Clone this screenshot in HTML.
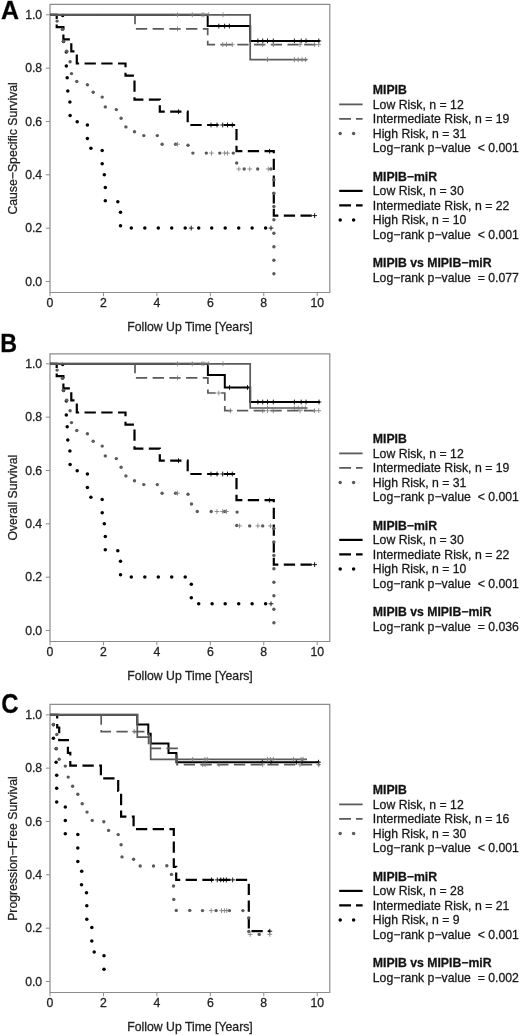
<!DOCTYPE html>
<html><head><meta charset="utf-8"><style>
html,body{margin:0;padding:0;background:#fff;}
body{width:520px;height:1035px;overflow:hidden;}
svg{display:block;font-family:"Liberation Sans", sans-serif;will-change:transform;} text{stroke:#222;stroke-width:0.28px;}
</style></head><body>
<svg width="520" height="1035" viewBox="0 0 520 1035">
<path d="M50,4.4 V292.5 H329.8 V4.4 Z" fill="none" stroke="#8c8c8c" stroke-width="1.2"/>
<line x1="45.8" y1="281.50" x2="50" y2="281.50" stroke="#8c8c8c" stroke-width="1"/>
<text x="42.2" y="285.60" text-anchor="end" font-size="12.25" fill="#222">0.0</text>
<line x1="45.8" y1="228.16" x2="50" y2="228.16" stroke="#8c8c8c" stroke-width="1"/>
<text x="42.2" y="232.26" text-anchor="end" font-size="12.25" fill="#222">0.2</text>
<line x1="45.8" y1="174.82" x2="50" y2="174.82" stroke="#8c8c8c" stroke-width="1"/>
<text x="42.2" y="178.92" text-anchor="end" font-size="12.25" fill="#222">0.4</text>
<line x1="45.8" y1="121.48" x2="50" y2="121.48" stroke="#8c8c8c" stroke-width="1"/>
<text x="42.2" y="125.58" text-anchor="end" font-size="12.25" fill="#222">0.6</text>
<line x1="45.8" y1="68.14" x2="50" y2="68.14" stroke="#8c8c8c" stroke-width="1"/>
<text x="42.2" y="72.24" text-anchor="end" font-size="12.25" fill="#222">0.8</text>
<line x1="45.8" y1="14.80" x2="50" y2="14.80" stroke="#8c8c8c" stroke-width="1"/>
<text x="42.2" y="18.90" text-anchor="end" font-size="12.25" fill="#222">1.0</text>
<line x1="50.00" y1="292.5" x2="50.00" y2="296.2" stroke="#8c8c8c" stroke-width="1"/>
<text x="50.00" y="306.8" text-anchor="middle" font-size="12.25" fill="#222">0</text>
<line x1="103.44" y1="292.5" x2="103.44" y2="296.2" stroke="#8c8c8c" stroke-width="1"/>
<text x="103.44" y="306.8" text-anchor="middle" font-size="12.25" fill="#222">2</text>
<line x1="156.88" y1="292.5" x2="156.88" y2="296.2" stroke="#8c8c8c" stroke-width="1"/>
<text x="156.88" y="306.8" text-anchor="middle" font-size="12.25" fill="#222">4</text>
<line x1="210.32" y1="292.5" x2="210.32" y2="296.2" stroke="#8c8c8c" stroke-width="1"/>
<text x="210.32" y="306.8" text-anchor="middle" font-size="12.25" fill="#222">6</text>
<line x1="263.76" y1="292.5" x2="263.76" y2="296.2" stroke="#8c8c8c" stroke-width="1"/>
<text x="263.76" y="306.8" text-anchor="middle" font-size="12.25" fill="#222">8</text>
<line x1="317.20" y1="292.5" x2="317.20" y2="296.2" stroke="#8c8c8c" stroke-width="1"/>
<text x="317.20" y="306.8" text-anchor="middle" font-size="12.25" fill="#222">10</text>
<text x="190" y="331.3" text-anchor="middle" font-size="12.25" fill="#222">Follow Up Time [Years]</text>
<text transform="translate(17.4,148.4) rotate(-90)" text-anchor="middle" font-size="12.25" fill="#222">Cause−Specific Survival</text>
<text transform="translate(1.0,19.4) scale(1.04,1.06)" font-size="24" font-weight="bold" fill="#000">A</text>
<text x="372.8" y="94.00" font-size="12.25" font-weight="bold" fill="#111" xml:space="preserve">MIPIB</text>
<text x="372.8" y="108.60" font-size="12.25" fill="#111" xml:space="preserve">Low Risk, n = 12</text>
<text x="372.8" y="123.10" font-size="12.25" fill="#111" xml:space="preserve">Intermediate Risk, n = 19</text>
<text x="372.8" y="137.60" font-size="12.25" fill="#111" xml:space="preserve">High Risk, n = 31</text>
<text x="372.8" y="152.20" font-size="12.25" fill="#111" xml:space="preserve">Log−rank p−value  &lt; 0.001</text>
<text x="372.8" y="180.50" font-size="12.25" font-weight="bold" fill="#111" xml:space="preserve">MIPIB−miR</text>
<text x="372.8" y="195.10" font-size="12.25" fill="#111" xml:space="preserve">Low Risk, n = 30</text>
<text x="372.8" y="209.60" font-size="12.25" fill="#111" xml:space="preserve">Intermediate Risk, n = 22</text>
<text x="372.8" y="224.10" font-size="12.25" fill="#111" xml:space="preserve">High Risk, n = 10</text>
<text x="372.8" y="238.70" font-size="12.25" fill="#111" xml:space="preserve">Log−rank p−value  &lt; 0.001</text>
<text x="372.8" y="267.00" font-size="12.25" font-weight="bold" fill="#111" xml:space="preserve">MIPIB vs MIPIB−miR</text>
<text x="372.8" y="281.60" font-size="12.25" fill="#111" xml:space="preserve">Log−rank p−value  = 0.077</text>
<line x1="339.2" y1="104.40" x2="362.6" y2="104.40" stroke="#5a5a5a" stroke-width="1.8"/>
<path d="M339.2,118.90 H351 M356,118.90 H362.6" stroke="#5a5a5a" stroke-width="1.8" fill="none"/>
<circle cx="340.2" cy="133.40" r="1.75" fill="#5a5a5a"/><circle cx="353.6" cy="133.40" r="1.75" fill="#5a5a5a"/>
<line x1="339.2" y1="190.90" x2="362.6" y2="190.90" stroke="#000" stroke-width="2.2"/>
<path d="M339.2,205.40 H351 M356,205.40 H362.6" stroke="#000" stroke-width="2.2" fill="none"/>
<circle cx="340.2" cy="219.90" r="1.75" fill="#000"/><circle cx="353.6" cy="219.90" r="1.75" fill="#000"/>
<path d="M50,353.9 V641.5 H329.8 V353.9 Z" fill="none" stroke="#8c8c8c" stroke-width="1.2"/>
<line x1="45.8" y1="630.50" x2="50" y2="630.50" stroke="#8c8c8c" stroke-width="1"/>
<text x="42.2" y="634.60" text-anchor="end" font-size="12.25" fill="#222">0.0</text>
<line x1="45.8" y1="577.16" x2="50" y2="577.16" stroke="#8c8c8c" stroke-width="1"/>
<text x="42.2" y="581.26" text-anchor="end" font-size="12.25" fill="#222">0.2</text>
<line x1="45.8" y1="523.82" x2="50" y2="523.82" stroke="#8c8c8c" stroke-width="1"/>
<text x="42.2" y="527.92" text-anchor="end" font-size="12.25" fill="#222">0.4</text>
<line x1="45.8" y1="470.48" x2="50" y2="470.48" stroke="#8c8c8c" stroke-width="1"/>
<text x="42.2" y="474.58" text-anchor="end" font-size="12.25" fill="#222">0.6</text>
<line x1="45.8" y1="417.14" x2="50" y2="417.14" stroke="#8c8c8c" stroke-width="1"/>
<text x="42.2" y="421.24" text-anchor="end" font-size="12.25" fill="#222">0.8</text>
<line x1="45.8" y1="363.80" x2="50" y2="363.80" stroke="#8c8c8c" stroke-width="1"/>
<text x="42.2" y="367.90" text-anchor="end" font-size="12.25" fill="#222">1.0</text>
<line x1="50.00" y1="641.5" x2="50.00" y2="645.2" stroke="#8c8c8c" stroke-width="1"/>
<text x="50.00" y="655.8" text-anchor="middle" font-size="12.25" fill="#222">0</text>
<line x1="103.44" y1="641.5" x2="103.44" y2="645.2" stroke="#8c8c8c" stroke-width="1"/>
<text x="103.44" y="655.8" text-anchor="middle" font-size="12.25" fill="#222">2</text>
<line x1="156.88" y1="641.5" x2="156.88" y2="645.2" stroke="#8c8c8c" stroke-width="1"/>
<text x="156.88" y="655.8" text-anchor="middle" font-size="12.25" fill="#222">4</text>
<line x1="210.32" y1="641.5" x2="210.32" y2="645.2" stroke="#8c8c8c" stroke-width="1"/>
<text x="210.32" y="655.8" text-anchor="middle" font-size="12.25" fill="#222">6</text>
<line x1="263.76" y1="641.5" x2="263.76" y2="645.2" stroke="#8c8c8c" stroke-width="1"/>
<text x="263.76" y="655.8" text-anchor="middle" font-size="12.25" fill="#222">8</text>
<line x1="317.20" y1="641.5" x2="317.20" y2="645.2" stroke="#8c8c8c" stroke-width="1"/>
<text x="317.20" y="655.8" text-anchor="middle" font-size="12.25" fill="#222">10</text>
<text x="190" y="680.3" text-anchor="middle" font-size="12.25" fill="#222">Follow Up Time [Years]</text>
<text transform="translate(17.4,497.7) rotate(-90)" text-anchor="middle" font-size="12.25" fill="#222">Overall Survival</text>
<text transform="translate(0.2,351.5) scale(0.97,1.04)" font-size="24" font-weight="bold" fill="#000">B</text>
<text x="372.8" y="443.00" font-size="12.25" font-weight="bold" fill="#111" xml:space="preserve">MIPIB</text>
<text x="372.8" y="457.60" font-size="12.25" fill="#111" xml:space="preserve">Low Risk, n = 12</text>
<text x="372.8" y="472.10" font-size="12.25" fill="#111" xml:space="preserve">Intermediate Risk, n = 19</text>
<text x="372.8" y="486.60" font-size="12.25" fill="#111" xml:space="preserve">High Risk, n = 31</text>
<text x="372.8" y="501.20" font-size="12.25" fill="#111" xml:space="preserve">Log−rank p−value  &lt; 0.001</text>
<text x="372.8" y="529.50" font-size="12.25" font-weight="bold" fill="#111" xml:space="preserve">MIPIB−miR</text>
<text x="372.8" y="544.10" font-size="12.25" fill="#111" xml:space="preserve">Low Risk, n = 30</text>
<text x="372.8" y="558.60" font-size="12.25" fill="#111" xml:space="preserve">Intermediate Risk, n = 22</text>
<text x="372.8" y="573.10" font-size="12.25" fill="#111" xml:space="preserve">High Risk, n = 10</text>
<text x="372.8" y="587.70" font-size="12.25" fill="#111" xml:space="preserve">Log−rank p−value  &lt; 0.001</text>
<text x="372.8" y="616.00" font-size="12.25" font-weight="bold" fill="#111" xml:space="preserve">MIPIB vs MIPIB−miR</text>
<text x="372.8" y="630.60" font-size="12.25" fill="#111" xml:space="preserve">Log−rank p−value  = 0.036</text>
<line x1="339.2" y1="453.40" x2="362.6" y2="453.40" stroke="#5a5a5a" stroke-width="1.8"/>
<path d="M339.2,467.90 H351 M356,467.90 H362.6" stroke="#5a5a5a" stroke-width="1.8" fill="none"/>
<circle cx="340.2" cy="482.40" r="1.75" fill="#5a5a5a"/><circle cx="353.6" cy="482.40" r="1.75" fill="#5a5a5a"/>
<line x1="339.2" y1="539.90" x2="362.6" y2="539.90" stroke="#000" stroke-width="2.2"/>
<path d="M339.2,554.40 H351 M356,554.40 H362.6" stroke="#000" stroke-width="2.2" fill="none"/>
<circle cx="340.2" cy="568.90" r="1.75" fill="#000"/><circle cx="353.6" cy="568.90" r="1.75" fill="#000"/>
<path d="M50,704.4 V992.5 H329.8 V704.4 Z" fill="none" stroke="#8c8c8c" stroke-width="1.2"/>
<line x1="45.8" y1="981.50" x2="50" y2="981.50" stroke="#8c8c8c" stroke-width="1"/>
<text x="42.2" y="985.60" text-anchor="end" font-size="12.25" fill="#222">0.0</text>
<line x1="45.8" y1="928.16" x2="50" y2="928.16" stroke="#8c8c8c" stroke-width="1"/>
<text x="42.2" y="932.26" text-anchor="end" font-size="12.25" fill="#222">0.2</text>
<line x1="45.8" y1="874.82" x2="50" y2="874.82" stroke="#8c8c8c" stroke-width="1"/>
<text x="42.2" y="878.92" text-anchor="end" font-size="12.25" fill="#222">0.4</text>
<line x1="45.8" y1="821.48" x2="50" y2="821.48" stroke="#8c8c8c" stroke-width="1"/>
<text x="42.2" y="825.58" text-anchor="end" font-size="12.25" fill="#222">0.6</text>
<line x1="45.8" y1="768.14" x2="50" y2="768.14" stroke="#8c8c8c" stroke-width="1"/>
<text x="42.2" y="772.24" text-anchor="end" font-size="12.25" fill="#222">0.8</text>
<line x1="45.8" y1="714.80" x2="50" y2="714.80" stroke="#8c8c8c" stroke-width="1"/>
<text x="42.2" y="718.90" text-anchor="end" font-size="12.25" fill="#222">1.0</text>
<line x1="50.00" y1="992.5" x2="50.00" y2="996.2" stroke="#8c8c8c" stroke-width="1"/>
<text x="50.00" y="1006.8" text-anchor="middle" font-size="12.25" fill="#222">0</text>
<line x1="103.44" y1="992.5" x2="103.44" y2="996.2" stroke="#8c8c8c" stroke-width="1"/>
<text x="103.44" y="1006.8" text-anchor="middle" font-size="12.25" fill="#222">2</text>
<line x1="156.88" y1="992.5" x2="156.88" y2="996.2" stroke="#8c8c8c" stroke-width="1"/>
<text x="156.88" y="1006.8" text-anchor="middle" font-size="12.25" fill="#222">4</text>
<line x1="210.32" y1="992.5" x2="210.32" y2="996.2" stroke="#8c8c8c" stroke-width="1"/>
<text x="210.32" y="1006.8" text-anchor="middle" font-size="12.25" fill="#222">6</text>
<line x1="263.76" y1="992.5" x2="263.76" y2="996.2" stroke="#8c8c8c" stroke-width="1"/>
<text x="263.76" y="1006.8" text-anchor="middle" font-size="12.25" fill="#222">8</text>
<line x1="317.20" y1="992.5" x2="317.20" y2="996.2" stroke="#8c8c8c" stroke-width="1"/>
<text x="317.20" y="1006.8" text-anchor="middle" font-size="12.25" fill="#222">10</text>
<text x="190" y="1031.3" text-anchor="middle" font-size="12.25" fill="#222">Follow Up Time [Years]</text>
<text transform="translate(17.4,848.5) rotate(-90)" text-anchor="middle" font-size="12.25" fill="#222">Progression−Free Survival</text>
<text transform="translate(1.2,712.9) scale(1.0,1.12)" font-size="24" font-weight="bold" fill="#000">C</text>
<text x="372.8" y="794.00" font-size="12.25" font-weight="bold" fill="#111" xml:space="preserve">MIPIB</text>
<text x="372.8" y="808.60" font-size="12.25" fill="#111" xml:space="preserve">Low Risk, n = 12</text>
<text x="372.8" y="823.10" font-size="12.25" fill="#111" xml:space="preserve">Intermediate Risk, n = 16</text>
<text x="372.8" y="837.60" font-size="12.25" fill="#111" xml:space="preserve">High Risk, n = 30</text>
<text x="372.8" y="852.20" font-size="12.25" fill="#111" xml:space="preserve">Log−rank p−value  &lt; 0.001</text>
<text x="372.8" y="880.50" font-size="12.25" font-weight="bold" fill="#111" xml:space="preserve">MIPIB−miR</text>
<text x="372.8" y="895.10" font-size="12.25" fill="#111" xml:space="preserve">Low Risk, n = 28</text>
<text x="372.8" y="909.60" font-size="12.25" fill="#111" xml:space="preserve">Intermediate Risk, n = 21</text>
<text x="372.8" y="924.10" font-size="12.25" fill="#111" xml:space="preserve">High Risk, n = 9</text>
<text x="372.8" y="938.70" font-size="12.25" fill="#111" xml:space="preserve">Log−rank p−value  &lt; 0.001</text>
<text x="372.8" y="967.00" font-size="12.25" font-weight="bold" fill="#111" xml:space="preserve">MIPIB vs MIPIB−miR</text>
<text x="372.8" y="981.60" font-size="12.25" fill="#111" xml:space="preserve">Log−rank p−value  = 0.002</text>
<line x1="339.2" y1="804.40" x2="362.6" y2="804.40" stroke="#5a5a5a" stroke-width="1.8"/>
<path d="M339.2,818.90 H351 M356,818.90 H362.6" stroke="#5a5a5a" stroke-width="1.8" fill="none"/>
<circle cx="340.2" cy="833.40" r="1.75" fill="#5a5a5a"/><circle cx="353.6" cy="833.40" r="1.75" fill="#5a5a5a"/>
<line x1="339.2" y1="890.90" x2="362.6" y2="890.90" stroke="#000" stroke-width="2.2"/>
<path d="M339.2,905.40 H351 M356,905.40 H362.6" stroke="#000" stroke-width="2.2" fill="none"/>
<circle cx="340.2" cy="919.90" r="1.75" fill="#000"/><circle cx="353.6" cy="919.90" r="1.75" fill="#000"/>
<path d="M50.0,14.8L207.7,14.8L207.7,26.1L250.2,26.1L250.2,40.9L319.8,40.9" fill="none" stroke="#000" stroke-width="2.0"/>
<path d="M216.4,26.1h4.8M218.8,23.7v4.8M222.2,26.1h4.8M224.6,23.7v4.8M227.0,26.1h4.8M229.4,23.7v4.8M255.5,40.9h4.8M257.9,38.5v4.8M260.3,40.9h4.8M262.7,38.5v4.8M265.1,40.9h4.8M267.5,38.5v4.8M270.9,40.9h4.8M273.3,38.5v4.8M292.0,40.9h4.8M294.4,38.5v4.8M298.8,40.9h4.8M301.2,38.5v4.8M303.6,40.9h4.8M306.0,38.5v4.8M316.4,40.9h4.8M318.8,38.5v4.8" stroke="#000" stroke-width="0.9" fill="none"/>
<path d="M50.0,14.8L56.7,14.8L56.7,27.2L63.4,27.2L63.4,39.3L71.3,39.3L71.3,51.4L76.8,51.4L76.8,63.5L125.5,63.5L125.5,75.6L134.5,75.6L134.5,99.6L159.8,99.6L159.8,111.7L187.7,111.7L187.7,125.0L236.5,125.0L236.5,151.2L273.8,151.2L273.8,215.6L314.6,215.6" fill="none" stroke="#000" stroke-width="2.2" stroke-dasharray="11.3 5.43" stroke-dashoffset="0.4"/>
<path d="M176.1,111.7h4.8M178.5,109.3v4.8M208.6,125.0h4.8M211.0,122.6v4.8M214.6,125.0h4.8M217.0,122.6v4.8M220.3,125.0h4.8M222.7,122.6v4.8M225.1,125.0h4.8M227.5,122.6v4.8M229.9,125.0h4.8M232.3,122.6v4.8M267.2,151.2h4.8M269.6,148.8v4.8M312.2,215.6h4.8M314.6,213.2v4.8" stroke="#000" stroke-width="0.9" fill="none"/>
<g fill="#000"><circle cx="62.7" cy="15.6" r="1.75"/><circle cx="62.7" cy="28.9" r="1.75"/><circle cx="63.5" cy="41.5" r="1.75"/><circle cx="66.3" cy="52.0" r="1.75"/><circle cx="66.3" cy="65.9" r="1.75"/><circle cx="67.2" cy="77.7" r="1.75"/><circle cx="67.8" cy="91.1" r="1.75"/><circle cx="69.9" cy="102.0" r="1.75"/><circle cx="70.1" cy="115.6" r="1.75"/><circle cx="77.2" cy="121.7" r="1.75"/><circle cx="87.4" cy="125.0" r="1.75"/><circle cx="87.4" cy="138.5" r="1.75"/><circle cx="90.9" cy="148.3" r="1.75"/><circle cx="102.2" cy="150.6" r="1.75"/><circle cx="102.2" cy="163.7" r="1.75"/><circle cx="104.3" cy="174.8" r="1.75"/><circle cx="105.3" cy="187.4" r="1.75"/><circle cx="105.3" cy="200.8" r="1.75"/><circle cx="117.8" cy="201.7" r="1.75"/><circle cx="120.5" cy="212.3" r="1.75"/><circle cx="120.5" cy="225.8" r="1.75"/><circle cx="131.3" cy="228.1" r="1.75"/><circle cx="144.8" cy="228.1" r="1.75"/><circle cx="158.3" cy="228.1" r="1.75"/><circle cx="171.7" cy="228.1" r="1.75"/><circle cx="185.2" cy="228.1" r="1.75"/><circle cx="198.7" cy="228.1" r="1.75"/><circle cx="211.7" cy="228.1" r="1.75"/><circle cx="225.2" cy="228.1" r="1.75"/><circle cx="238.7" cy="228.1" r="1.75"/><circle cx="252.1" cy="228.1" r="1.75"/><circle cx="265.6" cy="228.1" r="1.75"/></g>
<path d="M188.8,228.1h4.8M191.2,225.7v4.8M268.6,228.1h4.8M271.0,225.7v4.8" stroke="#000" stroke-width="0.9" fill="none"/>
<path d="M50.0,14.8L250.2,14.8L250.2,59.6L307.3,59.6" fill="none" stroke="#5a5a5a" stroke-width="1.7"/>
<path d="M175.1,14.8h4.8M177.5,12.4v4.8M189.9,14.8h4.8M192.3,12.4v4.8M199.6,14.8h4.8M202.0,12.4v4.8M201.4,14.8h4.8M203.8,12.4v4.8M206.3,14.8h4.8M208.7,12.4v4.8M220.6,14.8h4.8M223.0,12.4v4.8M265.1,59.6h4.8M267.5,57.2v4.8M292.0,59.6h4.8M294.4,57.2v4.8M295.9,59.6h4.8M298.3,57.2v4.8M299.7,59.6h4.8M302.1,57.2v4.8M303.0,59.6h4.8M305.4,57.2v4.8" stroke="#7a7a7a" stroke-width="0.8" fill="none"/>
<path d="M50.0,14.8L135.0,14.8L135.0,28.9L207.7,28.9L207.7,44.6L320.4,44.6" fill="none" stroke="#5a5a5a" stroke-width="1.7" stroke-dasharray="11.3 5.43" stroke-dashoffset="0.4"/>
<path d="M175.1,28.9h4.8M177.5,26.5v4.8M220.3,44.6h4.8M222.7,42.2v4.8M224.1,44.6h4.8M226.5,42.2v4.8M229.9,44.6h4.8M232.3,42.2v4.8M260.3,44.6h4.8M262.7,42.2v4.8M270.9,44.6h4.8M273.3,42.2v4.8M297.6,44.6h4.8M300.0,42.2v4.8M312.1,44.6h4.8M314.5,42.2v4.8M316.3,44.6h4.8M318.7,42.2v4.8" stroke="#7a7a7a" stroke-width="0.8" fill="none"/>
<g fill="#5a5a5a"><circle cx="57.1" cy="21.1" r="1.7"/><circle cx="62.4" cy="29.2" r="1.7"/><circle cx="63.4" cy="41.2" r="1.7"/><circle cx="66.8" cy="51.3" r="1.7"/><circle cx="70.1" cy="61.7" r="1.7"/><circle cx="71.5" cy="73.6" r="1.7"/><circle cx="76.8" cy="81.5" r="1.7"/><circle cx="87.4" cy="84.8" r="1.7"/><circle cx="93.2" cy="92.3" r="1.7"/><circle cx="102.2" cy="97.1" r="1.7"/><circle cx="105.3" cy="106.9" r="1.7"/><circle cx="116.3" cy="109.6" r="1.7"/><circle cx="121.1" cy="118.3" r="1.7"/><circle cx="125.9" cy="126.9" r="1.7"/><circle cx="134.5" cy="131.7" r="1.7"/><circle cx="143.8" cy="135.6" r="1.7"/><circle cx="157.3" cy="135.6" r="1.7"/><circle cx="162.1" cy="144.2" r="1.7"/><circle cx="175.6" cy="144.2" r="1.7"/><circle cx="188.0" cy="145.2" r="1.7"/><circle cx="192.9" cy="153.1" r="1.7"/><circle cx="206.3" cy="153.1" r="1.7"/><circle cx="219.8" cy="153.1" r="1.7"/><circle cx="233.3" cy="153.1" r="1.7"/><circle cx="236.7" cy="163.0" r="1.7"/><circle cx="244.2" cy="169.0" r="1.7"/><circle cx="257.7" cy="169.0" r="1.7"/><circle cx="270.9" cy="169.0" r="1.7"/><circle cx="273.9" cy="179.7" r="1.7"/><circle cx="273.9" cy="193.2" r="1.7"/><circle cx="273.9" cy="206.5" r="1.7"/><circle cx="273.9" cy="219.8" r="1.7"/><circle cx="273.9" cy="233.3" r="1.7"/><circle cx="273.9" cy="246.8" r="1.7"/><circle cx="273.9" cy="260.3" r="1.7"/><circle cx="273.9" cy="273.8" r="1.7"/></g>
<path d="M175.1,144.2h4.8M177.5,141.8v4.8M209.1,153.1h4.8M211.5,150.7v4.8M222.2,153.1h4.8M224.6,150.7v4.8M225.1,153.1h4.8M227.5,150.7v4.8M236.4,169.0h4.8M238.8,166.6v4.8M247.3,169.0h4.8M249.7,166.6v4.8M265.9,169.0h4.8M268.3,166.6v4.8" stroke="#7a7a7a" stroke-width="0.8" fill="none"/>
<path d="M50.0,363.8L207.9,363.8L207.9,375.0L224.8,375.0L224.8,387.5L250.2,387.5L250.2,402.0L320.0,402.0" fill="none" stroke="#000" stroke-width="2.0"/>
<path d="M227.1,387.5h4.8M229.5,385.1v4.8M245.1,387.5h4.8M247.5,385.1v4.8M255.5,402.0h4.8M257.9,399.6v4.8M260.3,402.0h4.8M262.7,399.6v4.8M265.1,402.0h4.8M267.5,399.6v4.8M270.9,402.0h4.8M273.3,399.6v4.8M292.0,402.0h4.8M294.4,399.6v4.8M298.8,402.0h4.8M301.2,399.6v4.8M303.6,402.0h4.8M306.0,399.6v4.8M316.6,402.0h4.8M319.0,399.6v4.8" stroke="#000" stroke-width="0.9" fill="none"/>
<path d="M50.0,363.8L56.7,363.8L56.7,376.2L63.4,376.2L63.4,388.3L71.3,388.3L71.3,400.4L76.8,400.4L76.8,412.5L125.5,412.5L125.5,424.6L134.5,424.6L134.5,448.6L159.8,448.6L159.8,460.7L187.7,460.7L187.7,474.0L236.5,474.0L236.5,500.2L273.8,500.2L273.8,564.6L314.6,564.6" fill="none" stroke="#000" stroke-width="2.2" stroke-dasharray="11.3 5.43" stroke-dashoffset="0.4"/>
<path d="M176.1,460.7h4.8M178.5,458.3v4.8M208.6,474.0h4.8M211.0,471.6v4.8M214.6,474.0h4.8M217.0,471.6v4.8M220.3,474.0h4.8M222.7,471.6v4.8M225.1,474.0h4.8M227.5,471.6v4.8M229.9,474.0h4.8M232.3,471.6v4.8M267.2,500.2h4.8M269.6,497.8v4.8M312.2,564.6h4.8M314.6,562.2v4.8" stroke="#000" stroke-width="0.9" fill="none"/>
<g fill="#000"><circle cx="62.7" cy="364.6" r="1.75"/><circle cx="62.7" cy="377.9" r="1.75"/><circle cx="63.5" cy="390.5" r="1.75"/><circle cx="66.3" cy="401.0" r="1.75"/><circle cx="66.3" cy="414.9" r="1.75"/><circle cx="67.2" cy="426.7" r="1.75"/><circle cx="67.8" cy="440.1" r="1.75"/><circle cx="69.9" cy="451.0" r="1.75"/><circle cx="70.1" cy="464.6" r="1.75"/><circle cx="77.2" cy="470.7" r="1.75"/><circle cx="87.4" cy="474.0" r="1.75"/><circle cx="87.4" cy="487.5" r="1.75"/><circle cx="90.9" cy="497.3" r="1.75"/><circle cx="102.2" cy="499.6" r="1.75"/><circle cx="102.2" cy="512.7" r="1.75"/><circle cx="104.3" cy="523.8" r="1.75"/><circle cx="105.3" cy="536.4" r="1.75"/><circle cx="105.3" cy="549.8" r="1.75"/><circle cx="117.8" cy="550.7" r="1.75"/><circle cx="120.5" cy="561.3" r="1.75"/><circle cx="120.5" cy="574.8" r="1.75"/><circle cx="131.3" cy="577.1" r="1.75"/><circle cx="144.8" cy="577.1" r="1.75"/><circle cx="158.3" cy="577.1" r="1.75"/><circle cx="171.7" cy="577.1" r="1.75"/><circle cx="185.2" cy="577.1" r="1.75"/><circle cx="191.3" cy="584.2" r="1.75"/><circle cx="191.3" cy="597.7" r="1.75"/><circle cx="198.7" cy="603.8" r="1.75"/><circle cx="212.1" cy="603.8" r="1.75"/><circle cx="225.2" cy="603.8" r="1.75"/><circle cx="238.7" cy="603.8" r="1.75"/><circle cx="252.1" cy="603.8" r="1.75"/><circle cx="265.6" cy="603.8" r="1.75"/></g>
<path d="M268.6,603.8h4.8M271.0,601.4v4.8" stroke="#000" stroke-width="0.9" fill="none"/>
<path d="M50.0,363.8L250.2,363.8L250.2,408.0L307.3,408.0" fill="none" stroke="#5a5a5a" stroke-width="1.7"/>
<path d="M175.1,363.8h4.8M177.5,361.4v4.8M189.9,363.8h4.8M192.3,361.4v4.8M199.6,363.8h4.8M202.0,361.4v4.8M201.4,363.8h4.8M203.8,361.4v4.8M206.3,363.8h4.8M208.7,361.4v4.8M220.6,363.8h4.8M223.0,361.4v4.8M265.1,408.0h4.8M267.5,405.6v4.8M292.0,408.0h4.8M294.4,405.6v4.8M295.9,408.0h4.8M298.3,405.6v4.8M299.7,408.0h4.8M302.1,405.6v4.8M303.0,408.0h4.8M305.4,405.6v4.8" stroke="#7a7a7a" stroke-width="0.8" fill="none"/>
<path d="M50.0,363.8L135.0,363.8L135.0,377.9L207.9,377.9L207.9,393.0L224.8,393.0L224.8,410.7L320.4,410.7" fill="none" stroke="#5a5a5a" stroke-width="1.7" stroke-dasharray="11.3 5.43" stroke-dashoffset="0.4"/>
<path d="M175.1,377.9h4.8M177.5,375.5v4.8M216.4,393.0h4.8M218.8,390.6v4.8M228.0,410.7h4.8M230.4,408.3v4.8M260.3,410.7h4.8M262.7,408.3v4.8M265.1,410.7h4.8M267.5,408.3v4.8M270.9,410.7h4.8M273.3,408.3v4.8M297.6,410.7h4.8M300.0,408.3v4.8M312.1,410.7h4.8M314.5,408.3v4.8M316.3,410.7h4.8M318.7,408.3v4.8" stroke="#7a7a7a" stroke-width="0.8" fill="none"/>
<g fill="#5a5a5a"><circle cx="57.1" cy="370.1" r="1.7"/><circle cx="62.4" cy="378.2" r="1.7"/><circle cx="63.4" cy="390.2" r="1.7"/><circle cx="66.8" cy="400.3" r="1.7"/><circle cx="70.1" cy="410.7" r="1.7"/><circle cx="71.5" cy="422.6" r="1.7"/><circle cx="76.8" cy="430.5" r="1.7"/><circle cx="87.4" cy="433.8" r="1.7"/><circle cx="93.2" cy="441.3" r="1.7"/><circle cx="102.2" cy="446.1" r="1.7"/><circle cx="105.3" cy="455.9" r="1.7"/><circle cx="116.3" cy="458.6" r="1.7"/><circle cx="121.1" cy="467.3" r="1.7"/><circle cx="125.9" cy="475.9" r="1.7"/><circle cx="134.5" cy="480.7" r="1.7"/><circle cx="143.8" cy="484.6" r="1.7"/><circle cx="157.3" cy="484.6" r="1.7"/><circle cx="162.1" cy="493.2" r="1.7"/><circle cx="175.6" cy="493.2" r="1.7"/><circle cx="188.0" cy="494.2" r="1.7"/><circle cx="191.5" cy="504.0" r="1.7"/><circle cx="197.3" cy="511.5" r="1.7"/><circle cx="211.2" cy="511.5" r="1.7"/><circle cx="224.6" cy="511.5" r="1.7"/><circle cx="237.1" cy="512.1" r="1.7"/><circle cx="236.7" cy="525.5" r="1.7"/><circle cx="249.7" cy="525.9" r="1.7"/><circle cx="262.7" cy="525.9" r="1.7"/><circle cx="273.9" cy="528.4" r="1.7"/><circle cx="273.9" cy="541.9" r="1.7"/><circle cx="273.9" cy="555.4" r="1.7"/><circle cx="273.9" cy="568.8" r="1.7"/><circle cx="273.9" cy="582.3" r="1.7"/><circle cx="273.9" cy="595.8" r="1.7"/><circle cx="273.9" cy="609.2" r="1.7"/><circle cx="273.9" cy="622.7" r="1.7"/></g>
<path d="M175.1,493.2h4.8M177.5,490.8v4.8M214.5,511.5h4.8M216.9,509.1v4.8M220.3,511.5h4.8M222.7,509.1v4.8M224.1,511.5h4.8M226.5,509.1v4.8M237.2,525.9h4.8M239.6,523.5v4.8M255.5,525.9h4.8M257.9,523.5v4.8M268.0,525.9h4.8M270.4,523.5v4.8" stroke="#7a7a7a" stroke-width="0.8" fill="none"/>
<path d="M50.0,714.8L137.3,714.8L137.3,724.4L148.3,724.4L148.3,733.8L150.7,733.8L150.7,743.6L168.5,743.6L168.5,753.0L176.4,753.0L176.4,762.2L319.4,762.2" fill="none" stroke="#000" stroke-width="2.0"/>
<path d="M259.9,762.2h4.8M262.3,759.8v4.8M268.6,762.2h4.8M271.0,759.8v4.8M293.9,762.2h4.8M296.3,759.8v4.8M299.7,762.2h4.8M302.1,759.8v4.8M316.1,762.2h4.8M318.5,759.8v4.8" stroke="#000" stroke-width="0.9" fill="none"/>
<path d="M50.0,714.8L57.2,714.8L57.2,727.5L59.2,727.5L59.2,740.2L67.9,740.2L67.9,752.9L70.3,752.9L70.3,765.6L100.9,765.6L100.9,778.3L118.2,778.3L118.2,791.0L121.1,791.0L121.1,816.6L133.6,816.6L133.6,829.2L173.8,829.2L173.8,866.9L176.2,866.9L176.2,879.9L248.8,879.9L248.8,931.2L269.8,931.2" fill="none" stroke="#000" stroke-width="2.2" stroke-dasharray="11.3 5.43" stroke-dashoffset="0.4"/>
<path d="M209.1,879.9h4.8M211.5,877.5v4.8M214.9,879.9h4.8M217.3,877.5v4.8M218.3,879.9h4.8M220.7,877.5v4.8M221.2,879.9h4.8M223.6,877.5v4.8M224.0,879.9h4.8M226.4,877.5v4.8M230.3,879.9h4.8M232.7,877.5v4.8M267.4,931.2h4.8M269.8,928.8v4.8" stroke="#000" stroke-width="0.9" fill="none"/>
<g fill="#000"><circle cx="53.4" cy="724.8" r="1.75"/><circle cx="53.4" cy="738.2" r="1.75"/><circle cx="56.1" cy="748.8" r="1.75"/><circle cx="56.1" cy="762.2" r="1.75"/><circle cx="56.7" cy="775.2" r="1.75"/><circle cx="56.7" cy="788.2" r="1.75"/><circle cx="56.7" cy="801.9" r="1.75"/><circle cx="65.3" cy="806.9" r="1.75"/><circle cx="65.3" cy="820.4" r="1.75"/><circle cx="65.3" cy="833.7" r="1.75"/><circle cx="77.8" cy="834.6" r="1.75"/><circle cx="77.8" cy="848.1" r="1.75"/><circle cx="77.8" cy="861.5" r="1.75"/><circle cx="81.7" cy="871.2" r="1.75"/><circle cx="81.5" cy="884.7" r="1.75"/><circle cx="86.5" cy="892.7" r="1.75"/><circle cx="86.8" cy="905.8" r="1.75"/><circle cx="86.8" cy="919.3" r="1.75"/><circle cx="91.8" cy="927.5" r="1.75"/><circle cx="91.8" cy="941.0" r="1.75"/><circle cx="94.2" cy="952.0" r="1.75"/><circle cx="104.0" cy="955.8" r="1.75"/><circle cx="104.0" cy="969.3" r="1.75"/></g>
<path d="M50.0,714.8L137.3,714.8L137.3,737.1L150.7,737.1L150.7,759.3L307.0,759.3" fill="none" stroke="#5a5a5a" stroke-width="1.7"/>
<path d="M190.3,759.3h4.8M192.7,756.9v4.8M202.6,759.3h4.8M205.0,756.9v4.8M204.9,759.3h4.8M207.3,756.9v4.8M265.1,759.3h4.8M267.5,756.9v4.8M268.0,759.3h4.8M270.4,756.9v4.8M270.9,759.3h4.8M273.3,756.9v4.8M291.1,759.3h4.8M293.5,756.9v4.8M298.8,759.3h4.8M301.2,756.9v4.8M300.7,759.3h4.8M303.1,756.9v4.8" stroke="#7a7a7a" stroke-width="0.8" fill="none"/>
<path d="M50.0,714.8L101.2,714.8L101.2,731.6L148.6,731.6L148.6,748.4L177.0,748.4L177.0,764.7L320.0,764.7" fill="none" stroke="#5a5a5a" stroke-width="1.7" stroke-dasharray="11.3 5.43" stroke-dashoffset="0.4"/>
<path d="M131.8,731.6h4.8M134.2,729.2v4.8M200.3,764.7h4.8M202.7,762.3v4.8M202.6,764.7h4.8M205.0,762.3v4.8M216.6,764.7h4.8M219.0,762.3v4.8M260.3,764.7h4.8M262.7,762.3v4.8M297.6,764.7h4.8M300.0,762.3v4.8M316.3,764.7h4.8M318.7,762.3v4.8" stroke="#7a7a7a" stroke-width="0.8" fill="none"/>
<g fill="#5a5a5a"><circle cx="53.4" cy="724.5" r="1.7"/><circle cx="56.8" cy="734.5" r="1.7"/><circle cx="56.5" cy="748.4" r="1.7"/><circle cx="59.2" cy="759.2" r="1.7"/><circle cx="65.3" cy="766.1" r="1.7"/><circle cx="68.2" cy="777.1" r="1.7"/><circle cx="72.6" cy="786.3" r="1.7"/><circle cx="77.8" cy="794.2" r="1.7"/><circle cx="82.2" cy="803.8" r="1.7"/><circle cx="87.0" cy="812.1" r="1.7"/><circle cx="92.2" cy="820.4" r="1.7"/><circle cx="103.8" cy="821.7" r="1.7"/><circle cx="108.6" cy="830.4" r="1.7"/><circle cx="118.2" cy="834.6" r="1.7"/><circle cx="121.1" cy="844.8" r="1.7"/><circle cx="122.0" cy="856.9" r="1.7"/><circle cx="133.6" cy="859.2" r="1.7"/><circle cx="140.2" cy="866.0" r="1.7"/><circle cx="153.5" cy="866.0" r="1.7"/><circle cx="166.8" cy="865.8" r="1.7"/><circle cx="171.5" cy="874.4" r="1.7"/><circle cx="173.5" cy="886.0" r="1.7"/><circle cx="173.8" cy="899.4" r="1.7"/><circle cx="176.3" cy="910.4" r="1.7"/><circle cx="189.8" cy="910.4" r="1.7"/><circle cx="202.5" cy="910.6" r="1.7"/><circle cx="216.1" cy="910.6" r="1.7"/><circle cx="229.4" cy="910.6" r="1.7"/><circle cx="242.9" cy="910.6" r="1.7"/><circle cx="248.8" cy="917.9" r="1.7"/><circle cx="248.8" cy="931.5" r="1.7"/><circle cx="259.2" cy="934.4" r="1.7"/></g>
<path d="M208.8,910.6h4.8M211.2,908.2v4.8M219.1,910.6h4.8M221.5,908.2v4.8M222.0,910.6h4.8M224.4,908.2v4.8M224.3,910.6h4.8M226.7,908.2v4.8M247.8,934.4h4.8M250.2,932.0v4.8M267.4,934.4h4.8M269.8,932.0v4.8" stroke="#7a7a7a" stroke-width="0.8" fill="none"/>
</svg>
</body></html>
